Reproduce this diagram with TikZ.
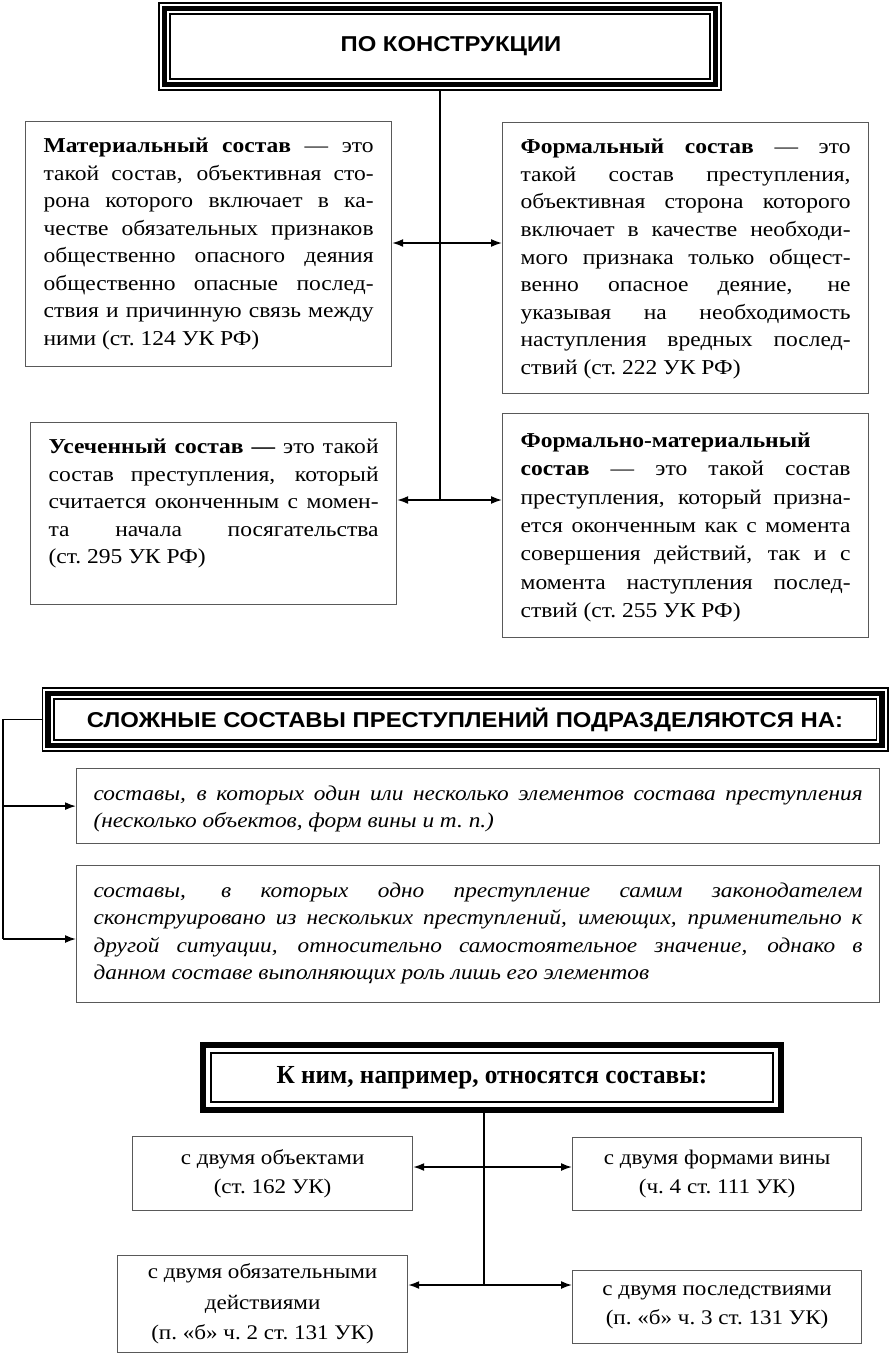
\documentclass[tikz,border=0pt]{standalone}
\usepackage{fontspec}
\setmainfont{Liberation Serif}[FakeStretch=1.11]
\setsansfont{Liberation Sans}[FakeStretch=1.11]
\newfontfamily\examplefont{Liberation Serif}[FakeStretch=0.97]
\usetikzlibrary{arrows.meta, positioning}

% text of a definition box: height, first baseline, line distance, text
\newcommand{\deftext}[4]{\parbox[c][#1][t]{330pt}{\fontsize{21.2pt}{#3}\selectfont\rule{0pt}{#2}#4}}
% text of a list box: height, text
\newcommand{\listtext}[2]{\parbox[c][#1][t]{769pt}{\itshape\fontsize{21pt}{27.3pt}\selectfont\rule{0pt}{32pt}#2}}

\begin{document}
\begin{tikzpicture}[x=1pt, y=-1pt,
    defbox/.style={rectangle, draw=black!65, line width=1.2pt, inner xsep=18pt, inner ysep=0pt, anchor=north west},
    listbox/.style={rectangle, draw=black!65, line width=1.2pt, inner xsep=17pt, inner ysep=0pt, anchor=north west},
    smallbox/.style={rectangle, draw=black!65, line width=1.2pt, align=center, inner sep=0pt, anchor=north west, font=\fontsize{20.8pt}{29pt}\selectfont},
    tripleframe/.style={preaction={draw=black, line width=13pt}, draw=white, line width=9.5pt, postaction={draw=black, line width=5.5pt}, inner sep=0pt, font=\sffamily\bfseries\fontsize{21.5pt}{25pt}\selectfont},
    thickframe/.style={draw, line width=6pt, inner sep=0pt, font=\examplefont\bfseries\fontsize{26pt}{30pt}\selectfont},
    link/.style={line width=1.6pt},
    arrow/.style={link, >={Latex[length=11pt, width=8pt]}}
]
    \path[use as bounding box, fill=white] (0,0) rectangle (891,1355);

    % By construction
    \node[tripleframe, minimum width=551pt, minimum height=76pt] (constr) at (440,46.5) {\hspace*{22pt}ПО КОНСТРУКЦИИ};

    % Material
    \node[defbox] (mat) at (25,121) {\deftext{245pt}{31pt}{27.5pt}{%
        \textbf{Материальный состав}~— это\linebreak
        такой состав, объективная сто-\linebreak
        рона которого включает в ка-\linebreak
        честве обязательных признаков\linebreak
        общественно опасного деяния\linebreak
        общественно опасные послед-\linebreak
        ствия и причинную связь между\linebreak
        ними (ст.~124 УК РФ)}};

    % Formal
    \node[defbox] (formal) at (502,122) {\deftext{271pt}{31pt}{27.6pt}{%
        \textbf{Формальный состав}~— это\linebreak
        такой состав преступления,\linebreak
        объективная сторона которого\linebreak
        включает в качестве необходи-\linebreak
        мого признака только общест-\linebreak
        венно опасное деяние, не\linebreak
        указывая на необходимость\linebreak
        наступления вредных послед-\linebreak
        ствий (ст.~222 УК РФ)}};

    % Truncated
    \node[defbox] (usech) at (30,422) {\deftext{182pt}{31pt}{27.5pt}{%
        \textbf{Усеченный состав —} это такой\linebreak
        состав преступления, который\linebreak
        считается оконченным с момен-\linebreak
        та начала посягательства\linebreak
        (ст.~295 УК РФ)}};

    % Formal-material
    \node[defbox] (formmat) at (502,413) {\deftext{224pt}{34pt}{28.3pt}{%
        \textbf{Формально-материальный}\\
        \textbf{состав}~— это такой состав\linebreak
        преступления, который призна-\linebreak
        ется оконченным как с момента\linebreak
        совершения действий, так и с\linebreak
        момента наступления послед-\linebreak
        ствий (ст.~255 УК РФ)}};

    % Arrows
    \coordinate (hub1) at (440,243);
    \coordinate (hub2) at (440,500);
    \draw[link] (constr.south) -- (hub2);
    \draw[arrow, <->] (mat.east |- hub1) -- (formal.west |- hub1);
    \draw[arrow, <->] (usech.east |- hub2) -- (formmat.west |- hub2);

    % Complex compositions
    \node[tripleframe, minimum width=834pt, minimum height=52pt] (complex) at (465,719.5) {СЛОЖНЫЕ СОСТАВЫ ПРЕСТУПЛЕНИЙ ПОДРАЗДЕЛЯЮТСЯ НА:};

    \node[listbox] (several) at (76,768) {\listtext{75pt}{%
        составы, в которых один или несколько элементов состава преступления\linebreak
        (несколько объектов, форм вины и т.~п.)}};

    \node[listbox] (compound) at (76,865) {\listtext{137pt}{%
        составы, в которых одно преступление самим законодателем\linebreak
        сконструировано из нескольких преступлений, имеющих, применительно к\linebreak
        другой ситуации, относительно самостоятельное значение, однако в\linebreak
        данном составе выполняющих роль лишь его элементов}};

    % Bracket
    \coordinate (brk1) at (3,719.5);
    \coordinate (brk2) at (3,939);
    \draw[link] (complex.west) -- (brk1) -- (brk2);
    \draw[arrow, ->] (brk1 |- several.west) -- (several.west);
    \draw[arrow, ->] (brk2) -- (brk2 -| compound.west);

    % Examples
    \node[thickframe, minimum width=578pt, minimum height=65pt] (examples) at (492,1077.5) {К ним, например, относятся составы:};
    \draw[line width=1.5pt] ([shift={(11pt,-11pt)}]examples.north west) rectangle ([shift={(-11pt,11pt)}]examples.south east);

    \node[smallbox, minimum width=280pt, minimum height=74pt] (twoobj) at (132,1136) {с двумя объектами\\(ст.~162 УК)};
    \node[smallbox, minimum width=289pt, minimum height=73pt] (twoguilt) at (572,1137) {с двумя формами вины\\(ч.~4 ст.~111 УК)};
    \node[smallbox, minimum width=290pt, minimum height=97pt, font=\fontsize{20.8pt}{30.5pt}\selectfont] (twoact) at (117,1255) {с двумя обязательными\\действиями\\(п.~«б» ч.~2 ст.~131 УК)};
    \node[smallbox, minimum width=289pt, minimum height=73pt] (twocons) at (572,1270) {с двумя последствиями\\(п.~«б» ч.~3 ст.~131 УК)};

    % Arrows
    \coordinate (hub3) at (484,1167);
    \coordinate (hub4) at (484,1285);
    \draw[link] (examples.south -| hub4) -- (hub4);
    \draw[arrow, <->] (twoobj.east |- hub3) -- (twoguilt.west |- hub3);
    \draw[arrow, <->] (twoact.east |- hub4) -- (twocons.west |- hub4);
\end{tikzpicture}
\end{document}
